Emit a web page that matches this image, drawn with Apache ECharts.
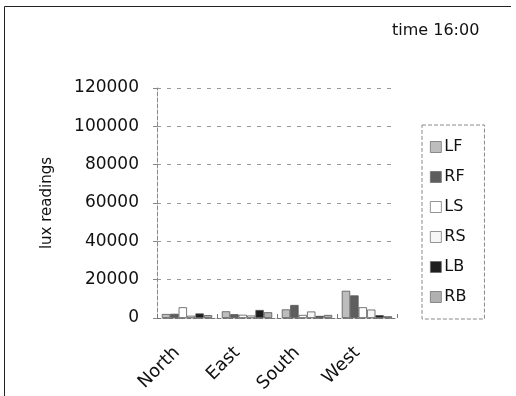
<!DOCTYPE html>
<html>
<head>
<meta charset="utf-8">
<script src="https://cdn.jsdelivr.net/npm/echarts@6/dist/echarts.min.js"></script>
<style>
  html, body { margin: 0; padding: 0; background: #fff; }
  #chart { width: 516px; height: 396px; }
</style>
</head>
<body>
<div id="chart"></div>
<script>
// 数据
const categories = ['North', 'East', 'South', 'West']
const seriesNames = ['LF', 'RF', 'LS', 'RS', 'LB', 'RB']
const LF = [2100, 3500, 4500, 14200]
const RF = [2200, 2000, 6800, 11800]
const LS = [5600, 1700, 1600, 5600]
const RS = [1200, 1300, 3400, 4400]
const LB = [2400, 4200, 1100, 1500]
const RB = [1500, 3000, 1600, 900]
const yTicks = [0, 20000, 40000, 60000, 80000, 100000, 120000]

const values = [LF, RF, LS, RS, LB, RB]
const colors = ['#bdbdbd', '#5e5e5e', '#ffffff', '#f6f6f6', '#1e1e1e', '#b0b0b0']

const chart = echarts.init(document.getElementById('chart'))
const font = '"DejaVu Sans", sans-serif'

let option = {
  animation: false,
  backgroundColor: '#fff',
  textStyle: { fontFamily: font },
  title: {
    text: 'time 16:00',
    left: 387,
    top: 18,
    textStyle: { fontFamily: font, fontSize: 16, fontWeight: 'normal', color: '#111' }
  },
  legend: {
    data: seriesNames,
    orient: 'vertical',
    left: 422,
    top: 125,
    padding: [14, 18, 14, 8],
    itemWidth: 11,
    itemHeight: 11,
    itemGap: 14,
    borderColor: '#888',
    borderWidth: 1,
    borderType: 'dashed',
    icon: 'rect',
    itemStyle: { borderColor: '#666', borderWidth: 0.7 },
    textStyle: { fontFamily: font, fontSize: 16, lineHeight: 16, color: '#111', padding: [0, 0, 0, -2] }
  },
  grid: {
    left: 157,
    right: 119,
    top: 88,
    bottom: 78,
    containLabel: false
  },
  xAxis: {
    type: 'category',
    data: categories,
    axisLine: { lineStyle: { color: '#777', type: 'dashed' } },
    axisTick: { show: true, inside: true, length: 4, lineStyle: { color: '#777' } },
    axisLabel: {
      rotate: 45,
      margin: 22,
      padding: [0, 14, 0, 0],
      fontSize: 18,
      color: '#111',
      fontFamily: font
    }
  },
  yAxis: {
    type: 'value',
    name: 'lux readings',
    nameLocation: 'middle',
    nameGap: 102,
    nameRotate: 90,
    nameTextStyle: { fontSize: 15, color: '#111', fontFamily: font },
    min: yTicks[0],
    max: yTicks[yTicks.length - 1],
    interval: yTicks[1] - yTicks[0],
    axisLine: { show: true, lineStyle: { color: '#888', type: 'dashed' } },
    axisTick: { show: true, length: 4, lineStyle: { color: '#888' } },
    axisLabel: { fontSize: 17, color: '#111', margin: 18, fontFamily: font, formatter: v => String(v) },
    splitLine: { show: true, lineStyle: { color: '#999', type: [4, 6] } }
  },
  graphic: [
    {
      type: 'polyline',
      shape: { points: [[4.5, 400], [4.5, 6.5], [511, 6.5]] },
      style: { fill: 'none', stroke: '#222', lineWidth: 1 },
      silent: true
    }
  ],
  series: seriesNames.map((name, i) => ({
    name: name,
    type: 'bar',
    data: values[i],
    barGap: '0%',
    barCategoryGap: '16%',
    itemStyle: {
      color: colors[i],
      borderColor: '#555',
      borderWidth: 0.8
    }
  }))
}
chart.setOption(option)
</script>
</body>
</html>
